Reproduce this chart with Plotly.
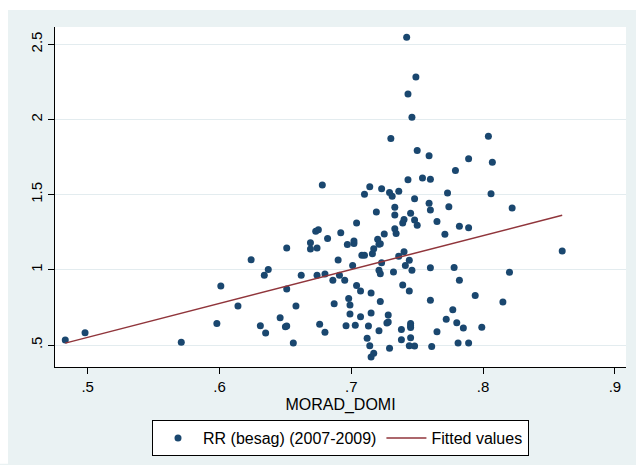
import plotly.graph_objects as go

# RR (besag) (2007-2009) against MORAD_DOMI
morad_domi = [
    0.483, 0.498, 0.571, 0.598, 0.601, 0.614, 0.624, 0.634, 0.637, 0.631,
    0.635, 0.646, 0.650, 0.651, 0.651, 0.651, 0.658, 0.656, 0.662, 0.669,
    0.669, 0.674, 0.673, 0.675, 0.674, 0.676, 0.678, 0.680, 0.680, 0.682,
    0.686, 0.687, 0.690, 0.691, 0.692, 0.695, 0.697, 0.696, 0.698, 0.699,
    0.699, 0.701, 0.702, 0.702, 0.703, 0.704, 0.704, 0.707, 0.707, 0.708,
    0.710, 0.716, 0.710, 0.712, 0.713, 0.714, 0.714, 0.715, 0.715, 0.715,
    0.717, 0.717, 0.719, 0.720, 0.721, 0.722, 0.721, 0.721, 0.722, 0.722,
    0.723, 0.723, 0.725, 0.727, 0.728, 0.728, 0.729, 0.729, 0.730, 0.731,
    0.732, 0.733, 0.733, 0.733, 0.734, 0.736, 0.736, 0.738, 0.738, 0.739,
    0.739, 0.740, 0.740, 0.741, 0.742, 0.743, 0.743, 0.744, 0.744, 0.744,
    0.745, 0.745, 0.745, 0.745, 0.745, 0.746, 0.746, 0.748, 0.748, 0.748,
    0.749, 0.750, 0.750, 0.754, 0.759, 0.759, 0.760, 0.760, 0.760, 0.760,
    0.761, 0.765, 0.765, 0.771, 0.772, 0.773, 0.774, 0.778, 0.777, 0.779,
    0.780, 0.781, 0.782, 0.782, 0.785, 0.789, 0.789, 0.789, 0.794, 0.799,
    0.804, 0.806, 0.807, 0.815, 0.820, 0.822, 0.860,
]
rr_besag = [
    0.533, 0.582, 0.518, 0.644, 0.893, 0.759, 1.067, 0.964, 1.002, 0.628,
    0.580, 0.681, 0.621, 0.626, 1.146, 0.873, 0.759, 0.513, 0.964, 1.181,
    1.139, 1.146, 1.256, 1.267, 0.964, 0.638, 1.564, 0.973, 0.585, 1.209,
    0.931, 0.775, 1.066, 0.965, 1.246, 0.931, 1.168, 0.628, 0.810, 0.767,
    0.707, 1.029, 1.192, 1.175, 0.631, 1.312, 0.896, 0.860, 0.689, 1.098,
    1.097, 1.107, 1.503, 0.545, 0.626, 1.552, 0.495, 0.713, 0.847, 0.420,
    0.446, 1.141, 1.384, 1.203, 1.170, 1.173, 0.595, 0.997, 0.975, 0.790,
    1.540, 1.048, 1.238, 0.647, 0.654, 0.700, 0.479, 1.514, 1.874, 1.490,
    0.986, 1.364, 1.417, 1.274, 1.241, 1.523, 1.091, 0.535, 0.604, 0.900,
    1.311, 1.335, 1.120, 1.029, 2.547, 2.169, 1.599, 0.860, 0.495, 1.064,
    1.376, 0.644, 0.629, 0.616, 0.548, 2.014, 0.997, 0.493, 1.332, 1.473,
    2.283, 1.296, 1.793, 1.610, 1.443, 1.758, 1.603, 1.398, 1.014, 0.798,
    0.491, 0.588, 1.322, 1.236, 0.671, 1.511, 1.420, 1.015, 0.734, 1.661,
    0.649, 0.513, 0.931, 1.290, 0.613, 1.280, 0.513, 1.738, 0.830, 0.619,
    1.888, 1.506, 1.715, 0.787, 0.984, 1.412, 1.125,
]

# Linear fit, drawn over the observed MORAD_DOMI range
fit_x = [0.483, 0.860]
fit_y = [0.513, 1.363]

x_ticks = [0.5, 0.6, 0.7, 0.8, 0.9]
x_tick_text = [".5", ".6", ".7", ".8", ".9"]
y_ticks = [0.5, 1.0, 1.5, 2.0, 2.5]
y_tick_text = [".5", "1", "1.5", "2", "2.5"]

NAVY = "#1a476f"
MAROON = "#90353b"
REGION = "#eaf2f3"
GRID = "#e3ecef"
FONT = "Liberation Sans, Arial, sans-serif"

fig = go.Figure()
fig.add_trace(go.Scatter(
    x=morad_domi, y=rr_besag, mode="markers",
    name="RR (besag) (2007-2009)",
    marker=dict(color=NAVY, size=7, line=dict(width=0)),
))
fig.add_trace(go.Scatter(
    x=fit_x, y=fit_y, mode="lines",
    name="Fitted values",
    line=dict(color=MAROON, width=1.5),
))

W, H = 636, 465
L, R, T, B = 55, 10, 27, 97
pw, ph = W - L - R, H - T - B


def px_to_paper_x(px):
    return (px - L) / pw


def px_to_paper_y(py):
    return (H - B - py) / ph


# graph region: light bluish band with a thin white border at top and left
fig.add_shape(type="rect", xref="paper", yref="paper", layer="below",
              x0=px_to_paper_x(0), x1=px_to_paper_x(W),
              y0=px_to_paper_y(0), y1=px_to_paper_y(10),
              fillcolor="white", line=dict(width=0))
fig.add_shape(type="rect", xref="paper", yref="paper", layer="below",
              x0=px_to_paper_x(0), x1=px_to_paper_x(8),
              y0=px_to_paper_y(0), y1=px_to_paper_y(H),
              fillcolor="white", line=dict(width=0))

fig.update_layout(
    width=W, height=H,
    margin=dict(l=L, r=R, t=T, b=B),
    paper_bgcolor=REGION,
    plot_bgcolor="white",
    font=dict(family=FONT, size=15, color="black"),
    showlegend=True,
    legend=dict(
        orientation="h", x=0.5, xanchor="center",
        y=px_to_paper_y(420), yanchor="top",
        bgcolor="white", bordercolor="black", borderwidth=1,
        font=dict(size=16), itemwidth=40,
    ),
    xaxis=dict(
        range=[0.4752, 0.9084], tickvals=x_ticks, ticktext=x_tick_text,
        showgrid=False, zeroline=False,
        showline=True, linecolor="black", linewidth=1,
        ticks="outside", ticklen=6, tickcolor="black",
        title=dict(text="MORAD_DOMI", font=dict(size=16), standoff=4),
    ),
    yaxis=dict(
        range=[0.3542, 2.6147], tickvals=y_ticks, ticktext=y_tick_text,
        tickangle=-90,
        showgrid=True, gridcolor=GRID, gridwidth=1, zeroline=False,
        showline=True, linecolor="black", linewidth=1,
        ticks="outside", ticklen=6, tickcolor="black",
    ),
)

fig.write_html("out.html")
